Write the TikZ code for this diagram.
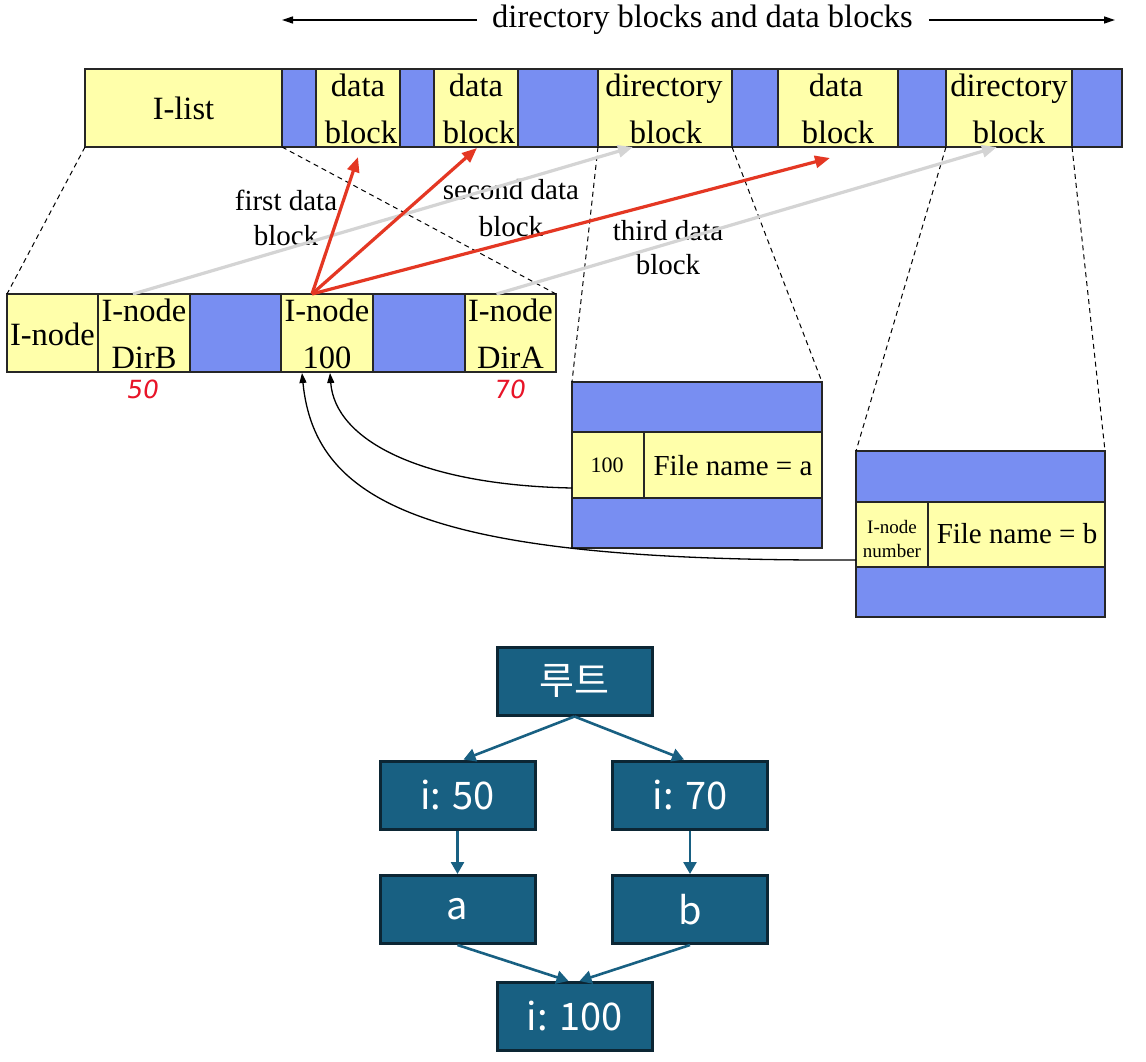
\documentclass[tikz,border=0pt]{standalone}
\usepackage{fontspec}
\setmainfont{Liberation Serif}
\newfontfamily\krfont{Noto Sans CJK KR}
\newfontfamily\handfont[FakeSlant=0.15]{DejaVu Sans}
\usetikzlibrary{arrows.meta,calc}
\definecolor{yel}{RGB}{255,255,170}
\definecolor{blu}{RGB}{120,142,242}
\definecolor{redarr}{RGB}{228,55,35}
\definecolor{grayarr}{RGB}{212,212,212}
\definecolor{tealbox}{RGB}{24,96,130}
\definecolor{tborder}{RGB}{12,38,52}
\definecolor{handred}{RGB}{232,20,40}
\begin{document}
\begin{tikzpicture}[x=1pt,y=-1pt,
  cell/.style={draw=black!85, line width=1.1pt, inner sep=0pt, outer sep=0pt, anchor=north west},
  ycell/.style={cell, fill=yel},
  bcell/.style={cell, fill=blu},
  ctext/.style={font=\fontsize{32.5}{38}\selectfont, inner sep=0pt, anchor=base},
  lbltext/.style={font=\fontsize{29}{34}\selectfont, inner sep=0pt, anchor=base},
  boxtext/.style={font=\fontsize{29}{34}\selectfont, inner sep=0pt, anchor=base},
  smalltext/.style={font=\fontsize{19}{22}\selectfont, inner sep=0pt, anchor=base},
  handtext/.style={font=\handfont\fontsize{25}{28}\selectfont, text=handred, inner sep=0pt, anchor=base},
  dashln/.style={dash pattern=on 5pt off 4pt, line width=1pt},
  redarrow/.style={draw=redarr, line width=3.2pt, -{Triangle[length=15pt,width=12pt]}},
  grayarrow/.style={draw=grayarr, line width=3.2pt, -{Triangle[length=15pt,width=12pt]}},
  curvarrow/.style={draw=black, line width=1.3pt, -{Triangle[length=10pt,width=7pt]}},
  toparrow/.style={line width=1.3pt, -{Triangle[length=11pt,width=7pt]}},
  tbox/.style={draw=tborder, line width=3pt, fill=tealbox, text=white, font=\krfont\fontsize{38}{42}\selectfont, minimum width=155pt, minimum height=68pt, inner sep=0pt},
  tarrow/.style={draw=tealbox, line width=2.6pt, -{Triangle[length=12pt,width=13pt]}}
]
\fill[white] (0,0) rectangle (1146,1062);
\useasboundingbox (0,0) rectangle (1146,1062);

% ---- title with arrows
\node[ctext] (title) at (702.5,28) {directory blocks and data blocks};
\coordinate (lt) at (282,20);
\coordinate (rt) at (1115,20);
\draw[toparrow] ($(title.west |- lt)+(-15,0)$) -- (lt);
\draw[toparrow] ($(title.east |- rt)+(16,0)$) -- (rt);

% ---- top bar
\node[ycell, minimum width=197pt, minimum height=78pt] (ilist) at (85,69) {};
\node[bcell, minimum width=34pt, minimum height=78pt] (b1) at (282,69) {};
\node[ycell, minimum width=84pt, minimum height=78pt] (d1) at (316,69) {};
\node[bcell, minimum width=34pt, minimum height=78pt] (b2) at (400,69) {};
\node[ycell, minimum width=84pt, minimum height=78pt] (d2) at (434,69) {};
\node[bcell, minimum width=80pt, minimum height=78pt] (b3) at (518,69) {};
\node[ycell, minimum width=134pt, minimum height=78pt] (dir1) at (598,69) {};
\node[bcell, minimum width=46pt, minimum height=78pt] (b4) at (732,69) {};
\node[ycell, minimum width=120pt, minimum height=78pt] (d3) at (778,69) {};
\node[bcell, minimum width=48pt, minimum height=78pt] (b5) at (898,69) {};
\node[ycell, minimum width=126pt, minimum height=78pt] (dir2) at (946,69) {};
\node[bcell, minimum width=50pt, minimum height=78pt] (b6) at (1072,69) {};

\node[ctext] (tilist) at (183.5,120) {I-list};
\node[ctext] (td1a) at (358,97) {data};
\node[ctext] (td1b) at (361,143) {block};
\node[ctext] (td2a) at (476,97) {data};
\node[ctext] (td2b) at (479,143) {block};
\node[ctext] (tdir1a) at (664,97) {directory};
\node[ctext] (tdir1b) at (666,143) {block};
\node[ctext] (td3a) at (836,97) {data};
\node[ctext] (td3b) at (838,143) {block};
\node[ctext] (tdir2a) at (1009,97) {directory};
\node[ctext] (tdir2b) at (1009,143) {block};

% ---- I-node row
\node[ycell, minimum width=91pt, minimum height=78pt] (in0) at (7,294) {};
\node[ycell, minimum width=92pt, minimum height=78pt] (in1) at (98,294) {};
\node[bcell, minimum width=91pt, minimum height=78pt] (rb1) at (190,294) {};
\node[ycell, minimum width=92pt, minimum height=78pt] (in2) at (281,294) {};
\node[bcell, minimum width=92pt, minimum height=78pt] (rb2) at (373,294) {};
\node[ycell, minimum width=91pt, minimum height=78pt] (in3) at (465,294) {};

\node[ctext] (tin0) at (52.5,345) {I-node};
\node[ctext] (tin1a) at (144,321) {I-node};
\node[ctext] (tin1b) at (144,368) {DirB};
\node[ctext] (tin2a) at (327,321) {I-node};
\node[ctext] (tin2b) at (327,368) {100};
\node[ctext] (tin3a) at (510.5,321) {I-node};
\node[ctext] (tin3b) at (510.5,368) {DirA};

\node[handtext] (h50) at (142,398) {50};
\node[handtext] (h70) at (509,398) {70};

% ---- directory block a
\node[bcell, minimum width=250pt, minimum height=50pt] (atop) at (572,382) {};
\node[ycell, minimum width=72pt, minimum height=66pt] (anum) at (572,432) {};
\node[ycell, minimum width=178pt, minimum height=66pt] (aname) at (644,432) {};
\node[bcell, minimum width=250pt, minimum height=50pt] (abot) at (572,498) {};
\node[font=\fontsize{22}{24}\selectfont, inner sep=0pt, anchor=base] (tanum) at (607,472) {100};
\node[boxtext] (taname) at (733,475) {File name = a};

% ---- directory block b
\node[bcell, minimum width=249pt, minimum height=51pt] (btop) at (856,451) {};
\node[ycell, minimum width=72pt, minimum height=65pt] (bnum) at (856,502) {};
\node[ycell, minimum width=177pt, minimum height=65pt] (bname) at (928,502) {};
\node[bcell, minimum width=249pt, minimum height=50pt] (bbot) at (856,567) {};
\node[smalltext] (tbnum1) at (892,533) {I-node};
\node[smalltext] (tbnum2) at (892,557) {number};
\node[boxtext] (tbname) at (1017,543) {File name = b};

% ---- dashed zoom lines
\draw[dashln] (ilist.south west) -- (in0.north west);
\draw[dashln] (ilist.south east) -- (in3.north east);
\draw[dashln] (dir1.south west) -- (atop.north west);
\draw[dashln] (dir1.south east) -- (atop.north east);
\draw[dashln] (dir2.south west) -- (btop.north west);
\draw[dashln] (dir2.south east) -- (btop.north east);

% ---- labels
\node[lbltext] (lf1) at (286,210) {first data};
\node[lbltext] (lf2) at (286,245) {block};
\node[lbltext] (ls1) at (511,200) {second data};
\node[lbltext] (ls2) at (511,236) {block};
\node[lbltext] (lt1) at (668,240) {third data};
\node[lbltext] (lt2) at (668,274) {block};

% ---- gray arrows (directory pointers)
\draw[grayarrow] ($(in1.north)+(-11,0)$) -- ($(dir1.south)+(-32,0)$);
\draw[grayarrow] ($(in3.north)+(-14,0)$) -- ($(dir2.south)+(-12,0)$);

% ---- red arrows (data block pointers)
\coordinate (rs) at ($(in2.north west)+(31,0)$);
\draw[redarrow] (rs) -- ($(d1.south)+(0,10)$);
\draw[redarrow] (rs) -- ($(d2.south)+(1,1)$);
\draw[redarrow] (rs) -- ($(d3.south)+(-8,11)$);

% ---- back pointers
\draw[curvarrow] ($(anum.south west)+(0,-10)$) .. controls (420,485) and (335,440) .. ($(in2.south)+(3,1)$);
\draw[curvarrow] ($(bnum.south west)+(0,-7)$) .. controls (430,562) and (315,505) .. ($(in2.south)+(-25,1)$);

% ---- tree
\node[tbox] (root) at (574.5,681) {루트};
\node[tbox] (i50) at (457.5,795) {i: 50};
\node[tbox] (i70) at (690,795) {i: 70};
\node[tbox] (na) at (457.5,909.5) {a};
\node[tbox] (nb) at (690,909.5) {b};
\node[tbox] (i100) at (574.5,1016.5) {i: 100};

\draw[tarrow] (root.south) -- ($(i50.north)+(6,0)$);
\draw[tarrow] (root.south) -- ($(i70.north)+(-6,0)$);
\draw[tarrow] (i50.south) -- (na.north);
\draw[tarrow] (i70.south) -- (nb.north);
\draw[tarrow] (na.south) -- ($(i100.north)+(-6,0)$);
\draw[tarrow] (nb.south) -- ($(i100.north)+(5,0)$);
\end{tikzpicture}
\end{document}
